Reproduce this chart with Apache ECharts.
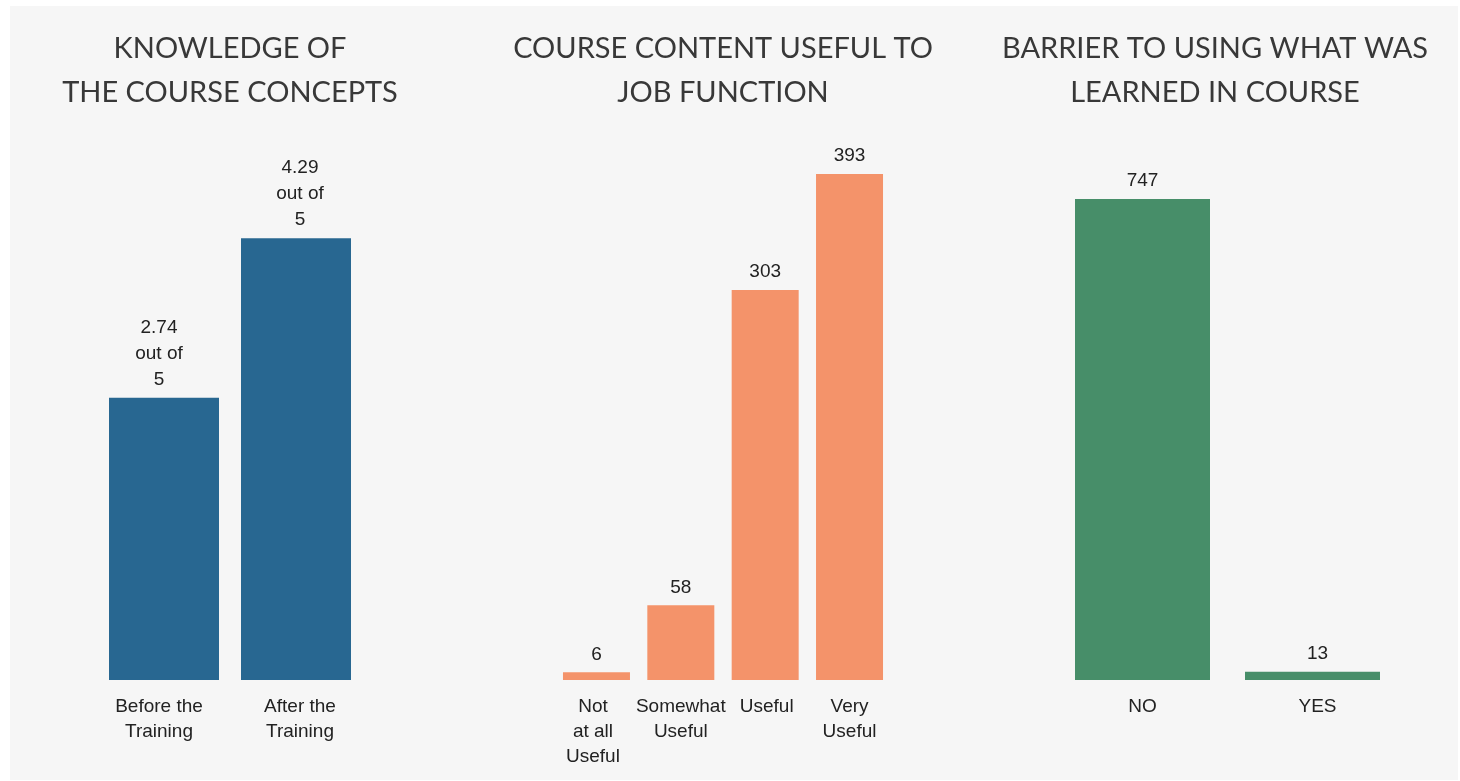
<!DOCTYPE html>
<html>
<head>
<meta charset="utf-8">
<script src="https://cdn.jsdelivr.net/npm/echarts@6/dist/echarts.min.js"></script>
<style>
html,body{margin:0;padding:0;background:#ffffff;}
#chart{width:1460px;height:781px;}
</style>
</head>
<body>
<div id="chart"></div>
<script>
const knowledgeCategories = ['Before the\nTraining', 'After the\nTraining'];
const knowledgeValues = [2.74, 4.29];
const usefulCategories = ['Not\nat all\nUseful', 'Somewhat\nUseful', 'Useful', 'Very\nUseful'];
const usefulValues = [6, 58, 303, 393];
const barrierCategories = ['NO', 'YES'];
const barrierValues = [747, 13];
const titles = [
  'KNOWLEDGE OF\nTHE COURSE CONCEPTS',
  'COURSE CONTENT USEFUL TO\nJOB FUNCTION',
  'BARRIER TO USING WHAT WAS\nLEARNED IN COURSE'
];

const chart = echarts.init(document.getElementById('chart'), null, {renderer: 'canvas'});
const labelFont = 'Arial, "Liberation Sans", sans-serif';
const titleFont = 'Lato, "Open Sans", sans-serif';

// horizontal nudges of text (styling only)
const axisShift = [[-5, 4], [-3.5, 0, 1.5, 0], [0, 5]];
const valueShift = [[-5, 4], [0, 0, 0, 0], [0, 5]];

function xAxisFor(idx, cats) {
  return {
    type: 'category', gridIndex: idx,
    data: cats.map((c, i) => {
      const s = axisShift[idx][i];
      const pad = s < 0 ? [0, -2 * s, 0, 0] : [0, 0, 0, 2 * s];
      return {value: c, textStyle: {padding: pad}};
    }),
    axisLine: {show: false}, axisTick: {show: false}, splitLine: {show: false},
    axisLabel: {
      interval: 0, margin: 14, color: '#222', fontFamily: labelFont,
      fontSize: 19, lineHeight: 25, verticalAlign: 'top'
    }
  };
}
function yAxisFor(idx, max) {
  return {
    type: 'value', gridIndex: idx, min: 0, max: max, show: false,
    splitLine: {show: false}
  };
}
function barFor(idx, values, color, width, fmt) {
  return {
    type: 'bar', xAxisIndex: idx, yAxisIndex: idx,
    data: values.map((v, i) => ({value: v, label: {offset: [valueShift[idx][i], 0]}})),
    barWidth: width, itemStyle: {color: color},
    silent: true,
    label: {
      show: true, position: 'top', distance: 5, color: '#222',
      fontFamily: labelFont, fontSize: 19, lineHeight: 26,
      formatter: fmt
    }
  };
}

const titleCenters = [230, 723, 1215];

chart.setOption({
  backgroundColor: '#ffffff',
  animation: false,
  graphic: [
    {type: 'rect', left: 10, top: 6, shape: {width: 1448, height: 774}, style: {fill: '#f6f6f6'}, z: -10}
  ].concat(titles.map((t, i) => ({
    type: 'text', x: titleCenters[i], y: 27,
    style: {
      text: t, textAlign: 'center', textVerticalAlign: 'top',
      fontFamily: titleFont, fontWeight: 'normal', fontSize: 29, lineHeight: 44, fill: '#383838'
    }
  }))),
  grid: [
    {left: 98, width: 264, top: 165, height: 515},
    {left: 554.3, width: 337.4, top: 165, height: 515},
    {left: 1057.5, width: 340, top: 165, height: 515}
  ],
  xAxis: [
    xAxisFor(0, knowledgeCategories),
    xAxisFor(1, usefulCategories),
    xAxisFor(2, barrierCategories)
  ],
  yAxis: [yAxisFor(0, 5), yAxisFor(1, 400), yAxisFor(2, 800)],
  series: [
    barFor(0, knowledgeValues, '#286791', 110, p => p.value + '\nout of\n5'),
    barFor(1, usefulValues, '#f4936a', 67, '{c}'),
    barFor(2, barrierValues, '#478e69', 135, '{c}')
  ]
});
</script>
</body>
</html>
